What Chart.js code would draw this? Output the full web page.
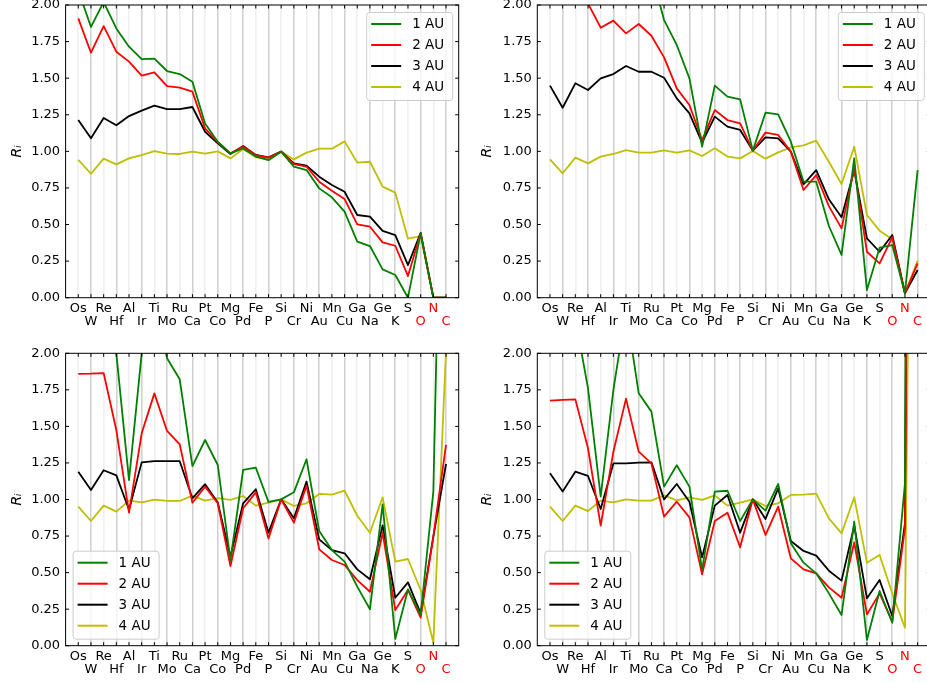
<!DOCTYPE html>
<html>
<head>
<meta charset="utf-8">
<script src="https://cdn.jsdelivr.net/npm/chart.js@4/dist/chart.umd.min.js"></script>
<style>
  html, body { margin: 0; padding: 0; background: #ffffff; overflow: hidden; width: 927px; height: 683px; }
  canvas { position: absolute; }
</style>
</head>
<body>
<canvas id="pa" width="470" height="345" style="left:0px;top:0px"></canvas>
<canvas id="pb" width="475" height="345" style="left:470px;top:0px"></canvas>
<canvas id="pc" width="470" height="350" style="left:0px;top:340px"></canvas>
<canvas id="pd" width="475" height="350" style="left:470px;top:340px"></canvas>
<script>
// Elements, ordered along the x axis
const cats = ['Os','W','Re','Hf','Al','Ir','Ti','Mo','Ru','Ca','Pt','Co','Mg','Pd','Fe','P',
              'Si','Cr','Ni','Au','Mn','Cu','Ga','Na','Ge','K','S','O','N','C'];
const redCats = ['O','N','C'];
const seriesLabels = ['1 AU','2 AU','3 AU','4 AU'];
const yTickValues = [0, 0.25, 0.5, 0.75, 1.0, 1.25, 1.5, 1.75, 2.0];

// Panel a (top left)
const a1 = [2.10,1.85,2.02,1.84,1.715,1.63,1.633,1.549,1.528,1.476,1.19,1.066,0.986,1.02,0.964,0.94,0.998,0.895,0.872,0.747,0.686,0.588,0.383,0.353,0.194,0.155,0.0,0.44,0,0];
const a2 = [1.909,1.674,1.856,1.681,1.613,1.517,1.54,1.446,1.435,1.408,1.157,1.062,0.986,1.032,0.975,0.957,0.998,0.913,0.895,0.793,0.731,0.674,0.501,0.485,0.378,0.355,0.148,0.44,0,0];
const a3 = [1.214,1.089,1.228,1.178,1.241,1.278,1.312,1.289,1.289,1.303,1.134,1.055,0.982,1.036,0.975,0.959,0.998,0.918,0.902,0.827,0.77,0.724,0.565,0.554,0.456,0.428,0.223,0.444,0,0];
const a4 = [0.941,0.847,0.95,0.911,0.952,0.975,1.002,0.984,0.982,0.998,0.984,1.0,0.952,1.016,0.959,0.952,0.998,0.945,0.991,1.018,1.018,1.068,0.923,0.929,0.759,0.718,0.403,0.421,0,0];

// Panel b (top right)
const b1 = [3.2,2.9,3.2,3.0,2.8,2.7,2.6,2.5,2.22,1.897,1.727,1.499,1.032,1.449,1.374,1.355,1.005,1.264,1.253,1.066,0.793,0.793,0.49,0.292,0.952,0.052,0.342,0.36,0.03,0.872];
const b2 = [2.4,2.2,2.4,2.01,1.845,1.893,1.806,1.87,1.79,1.642,1.43,1.317,1.077,1.282,1.214,1.191,1.005,1.128,1.112,0.998,0.736,0.838,0.626,0.474,0.884,0.314,0.235,0.412,0.03,0.235];
const b3 = [1.449,1.298,1.465,1.419,1.499,1.528,1.583,1.544,1.544,1.503,1.362,1.26,1.059,1.237,1.169,1.146,1.005,1.096,1.089,0.998,0.774,0.872,0.672,0.549,0.872,0.405,0.314,0.428,0.03,0.189];
const b4 = [0.945,0.85,0.957,0.918,0.964,0.982,1.009,0.991,0.991,1.007,0.991,1.007,0.968,1.021,0.964,0.952,1.002,0.95,0.993,1.027,1.041,1.073,0.929,0.777,1.032,0.565,0.458,0.399,0.03,0.253];

// Panel c (bottom left)
const c1 = [2.6,2.5,2.5,2.0,1.133,2.0,2.4,1.966,1.822,1.229,1.407,1.236,0.586,1.202,1.218,0.983,1.001,1.049,1.275,0.784,0.654,0.575,0.404,0.249,0.967,0.046,0.385,0.21,1.054,5.0];
const c2 = [1.859,1.861,1.865,1.475,0.91,1.453,1.726,1.469,1.377,0.978,1.088,0.974,0.545,0.94,1.049,0.734,1.001,0.842,1.095,0.659,0.586,0.552,0.449,0.369,0.773,0.244,0.381,0.192,0.746,1.373];
const c3 = [1.19,1.065,1.2,1.165,0.93,1.254,1.262,1.262,1.262,1.008,1.105,0.98,0.609,0.974,1.07,0.773,1.001,0.871,1.122,0.727,0.654,0.632,0.522,0.454,0.823,0.328,0.433,0.221,0.746,1.243];
const c4 = [0.951,0.853,0.958,0.917,0.992,0.981,0.999,0.99,0.99,1.026,0.992,1.01,0.997,1.024,0.958,0.978,1.001,0.956,0.974,1.038,1.033,1.06,0.889,0.773,1.015,0.575,0.593,0.381,0.02,2.02];

// Panel d (bottom right)
const d1 = [2.4,2.3,2.24,1.76,1.02,1.749,2.3,1.726,1.601,1.088,1.234,1.088,0.518,1.054,1.06,0.853,1.001,0.924,1.106,0.70,0.568,0.495,0.358,0.21,0.848,0.039,0.374,0.157,1.11,25];
const d2 = [1.676,1.681,1.685,1.35,0.821,1.327,1.69,1.327,1.247,0.883,0.985,0.878,0.488,0.853,0.91,0.673,1.001,0.757,0.951,0.597,0.522,0.495,0.399,0.328,0.707,0.214,0.358,0.164,0.80,14];
const d3 = [1.179,1.054,1.19,1.161,0.935,1.247,1.247,1.252,1.254,1.001,1.106,0.985,0.604,0.958,1.031,0.773,1.001,0.867,1.076,0.716,0.648,0.616,0.513,0.445,0.821,0.324,0.449,0.203,0.837,15];
const d4 = [0.951,0.853,0.958,0.921,0.992,0.981,1.001,0.992,0.992,1.028,0.994,1.015,0.997,1.028,0.958,0.978,1.001,0.956,0.974,1.031,1.033,1.04,0.871,0.768,1.015,0.568,0.62,0.358,0.123,8.5];

const seriesColors = ['#008000', '#ff0000', '#000000', '#bfbf00'];
const FONT = 'DejaVu Sans';

Chart.defaults.font.family = FONT;
Chart.defaults.color = '#000000';

// Plot box of each canvas (pixels inside the canvas)
const panels = [
  { id: 'pa', series: [a1, a2, a3, a4], legend: 'upper right', area: { l: 65.6, t: 5, r: 458.7, b: 297.7 } },
  { id: 'pb', series: [b1, b2, b3, b4], legend: 'upper right', area: { l: 67.3, t: 5, r: 460.3, b: 297.7 } },
  { id: 'pc', series: [c1, c2, c3, c4], legend: 'lower left',  area: { l: 65.6, t: 13.3, r: 458.7, b: 305.7 } },
  { id: 'pd', series: [d1, d2, d3, d4], legend: 'lower left',  area: { l: 67.3, t: 13.3, r: 460.3, b: 305.7 } }
];

// Spines and inward tick marks on all four sides
const framePlugin = {
  id: 'frame',
  afterDatasetsDraw(chart) {
    const { ctx, chartArea: a, scales: { x, y } } = chart;
    const len = 3.5;
    ctx.save();
    ctx.strokeStyle = '#000000';
    ctx.lineWidth = 1;
    ctx.beginPath();
    x.ticks.forEach(t => {
      const px = x.getPixelForValue(t.value);
      ctx.moveTo(px, a.bottom); ctx.lineTo(px, a.bottom - len);
      ctx.moveTo(px, a.top); ctx.lineTo(px, a.top + len);
    });
    y.ticks.forEach(t => {
      const py = y.getPixelForValue(t.value);
      ctx.moveTo(a.left, py); ctx.lineTo(a.left + len, py);
      ctx.moveTo(a.right, py); ctx.lineTo(a.right - len, py);
    });
    ctx.stroke();
    ctx.strokeRect(a.left, a.top, a.right - a.left, a.bottom - a.top);
    ctx.restore();
  }
};

// Boxed legend inside the plot area
const boxLegendPlugin = {
  id: 'boxLegend',
  afterDraw(chart, args, opts) {
    const { ctx, chartArea: a } = chart;
    const w = 86, h = 88, rowGap = 21, firstRow = 12;
    let bx, by;
    if (opts.corner === 'upper right') { bx = a.right - 6.5 - w; by = a.top + 7; }
    else { bx = a.left + 7; by = a.bottom - 7 - h; }
    ctx.save();
    ctx.beginPath();
    ctx.roundRect(bx + 0.5, by + 0.5, w, h, 3);
    ctx.fillStyle = 'rgba(255,255,255,0.8)';
    ctx.fill();
    ctx.strokeStyle = '#cccccc';
    ctx.lineWidth = 1;
    ctx.stroke();
    ctx.font = '13.5px "' + FONT + '"';
    ctx.textBaseline = 'middle';
    ctx.textAlign = 'left';
    chart.data.datasets.forEach((ds, i) => {
      const ry = by + firstRow + i * rowGap;
      ctx.beginPath();
      ctx.strokeStyle = ds.borderColor;
      ctx.lineWidth = 2;
      ctx.moveTo(bx + 5, ry); ctx.lineTo(bx + 35, ry);
      ctx.stroke();
      ctx.fillStyle = '#000000';
      ctx.fillText(ds.label, bx + 46, ry + 0.5);
    });
    ctx.restore();
  }
};

panels.forEach(p => {
  const canvas = document.getElementById(p.id);
  const W = canvas.width, H = canvas.height;
  new Chart(canvas, {
    type: 'line',
    data: {
      datasets: p.series.map((vals, i) => ({
        label: seriesLabels[i],
        data: vals.map((v, k) => ({ x: k, y: v })),
        borderColor: seriesColors[i],
        backgroundColor: seriesColors[i],
        borderWidth: 1.8,
        pointRadius: 0,
        tension: 0,
        fill: false,
        borderJoinStyle: 'round'
      }))
    },
    options: {
      responsive: false,
      animation: false,
      events: [],
      layout: { padding: { left: 0, top: p.area.t, right: W - p.area.r, bottom: 0 } },
      plugins: {
        legend: { display: false },
        tooltip: { enabled: false },
        boxLegend: { corner: p.legend }
      },
      scales: {
        x: {
          type: 'linear',
          min: -1,
          max: cats.length,
          afterBuildTicks: s => { s.ticks = cats.map((c, i) => ({ value: i })); },
          afterFit: s => { s.height = H - p.area.b; s.paddingLeft = 0; s.paddingRight = 0; },
          border: { display: false },
          grid: {
            display: true,
            drawTicks: false,
            lineWidth: 1.6,
            color: ctx => (ctx.index % 2 ? '#d2d2d2' : '#efefef')
          },
          ticks: {
            autoSkip: false,
            maxRotation: 0,
            minRotation: 0,
            padding: 4.5,
            font: { size: 13, family: FONT, lineHeight: 1.0 },
            color: ctx => (ctx.tick && redCats.includes(cats[ctx.tick.value]) ? '#ff0000' : '#000000'),
            callback: v => (v % 2 === 0 ? [cats[v], ''] : ['', cats[v]])
          }
        },
        y: {
          type: 'linear',
          min: 0,
          max: 2,
          afterBuildTicks: s => { s.ticks = yTickValues.map(v => ({ value: v })); },
          afterFit: s => { s.width = p.area.l; s.paddingTop = 0; s.paddingBottom = 0; },
          border: { display: false },
          grid: { display: false, drawTicks: false },
          ticks: {
            padding: 5.5,
            font: { size: 13, family: FONT },
            color: '#000000',
            callback: v => v.toFixed(2)
          },
          title: {
            display: true,
            text: 'Rᵢ',
            color: '#000000',
            font: { size: 14, family: FONT, style: 'italic' },
            padding: { top: 9, bottom: 0 }
          }
        }
      }
    },
    plugins: [framePlugin, boxLegendPlugin]
  });
});
</script>
</body>
</html>
